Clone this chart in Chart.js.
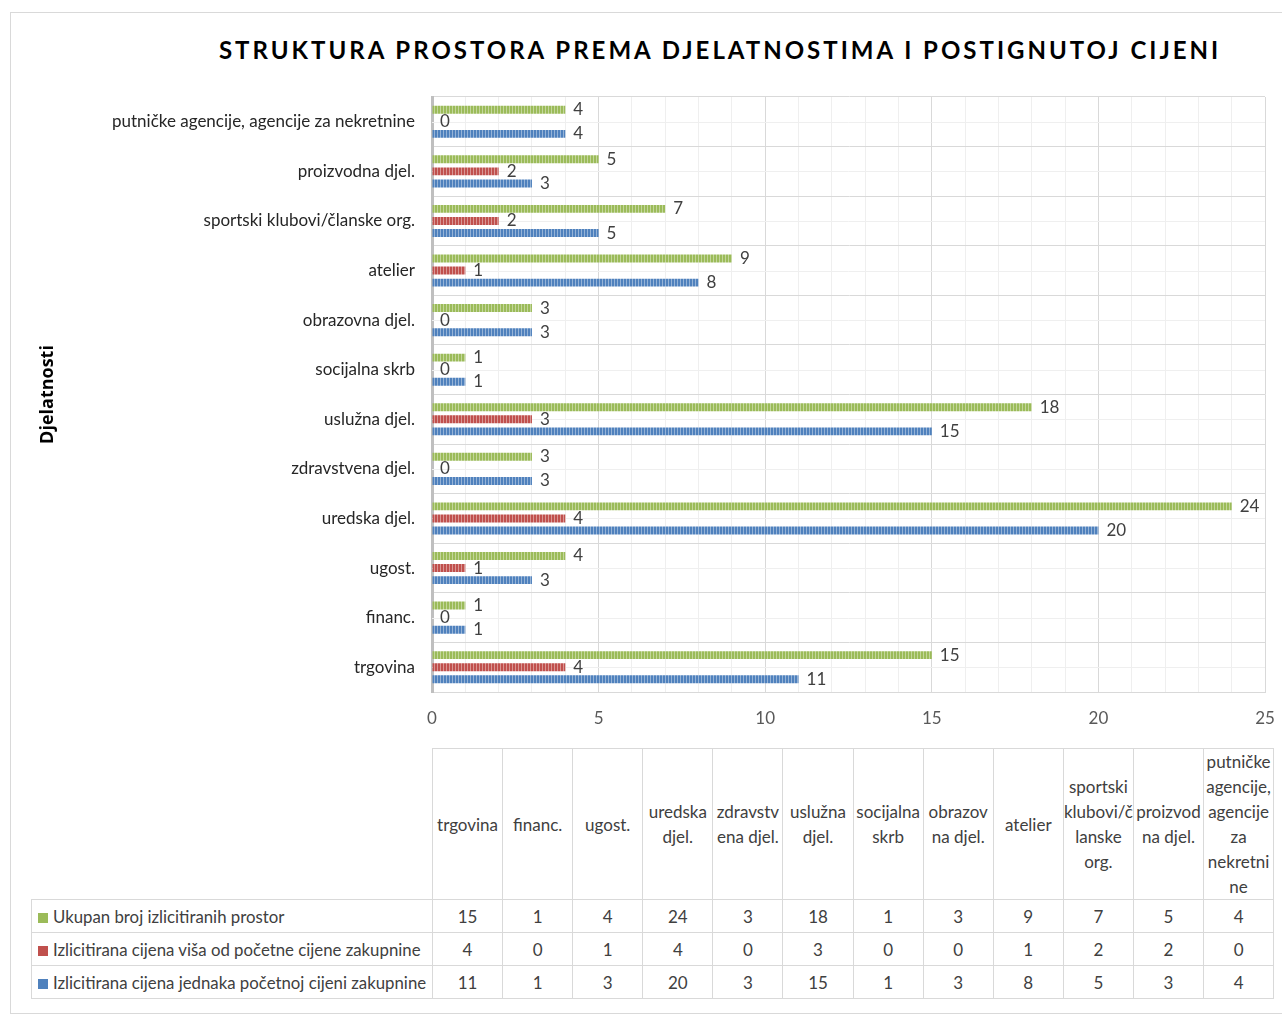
<!DOCTYPE html>
<html lang="hr">
<head>
<meta charset="UTF-8">
<title>Struktura prostora prema djelatnostima</title>
<script src="https://cdn.jsdelivr.net/npm/chart.js"></script>
<style>
    body { margin: 0; background: #fff; font-family: Lato, sans-serif; }
    #frame {
        position: absolute; left: 10px; top: 12px;
        width: 1300px; height: 1000px;
        border: 1px solid #d9d9d9;
    }
    #title {
        position: absolute; left: 720px; top: 36px;
        transform: translateX(-50%);
        white-space: nowrap;
        font: bold 24px Lato, sans-serif;
        letter-spacing: 3px;
        color: #000;
        line-height: 28px;
    }
    #chartBox { position: absolute; left: 0; top: 80px; width: 1282px; height: 652px; }
    #dataTable {
        position: absolute; left: 31px; top: 748px;
        border-collapse: collapse; table-layout: fixed;
        font-size: 17px; color: #404040;
    }
    #dataTable td { border: 1px solid #d9d9d9; text-align: center; padding: 0; }
    #dataTable td.blank { border-top: none; border-left: none; }
    #dataTable tr.head td { height: 149px; line-height: 25px; }
    #dataTable tr.row td { height: 32px; }
    #dataTable td.name { text-align: left; padding-left: 6px; white-space: nowrap; font-size: 16.8px; }
    .key { display: inline-block; width: 10px; height: 10px; margin-right: 5px; }
</style>
</head>
<body>
<div id="frame"></div>
<div id="title">STRUKTURA PROSTORA PREMA DJELATNOSTIMA I POSTIGNUTOJ CIJENI</div>
<div id="chartBox"><canvas id="chart"></canvas></div>
<table id="dataTable"></table>

<script>
    const categories = ['trgovina', 'financ.', 'ugost.', 'uredska djel.', 'zdravstvena djel.', 'uslužna djel.',
        'socijalna skrb', 'obrazovna djel.', 'atelier', 'sportski klubovi/članske org.', 'proizvodna djel.',
        'putničke agencije, agencije za nekretnine'];
    // zaglavlja tablice kako ih lomi Excel
    const tableHeaders = [['trgovina'], ['financ.'], ['ugost.'], ['uredska', 'djel.'], ['zdravstv', 'ena djel.'],
        ['uslužna', 'djel.'], ['socijalna', 'skrb'], ['obrazov', 'na djel.'], ['atelier'],
        ['sportski', 'klubovi/č', 'lanske', 'org.'], ['proizvod', 'na djel.'],
        ['putničke', 'agencije,', 'agencije', 'za', 'nekretni', 'ne']];

    const seriesNames = ['Ukupan broj izlicitiranih prostor',
        'Izlicitirana cijena viša od početne cijene zakupnine',
        'Izlicitirana cijena jednaka početnoj cijeni zakupnine'];
    const ukupno = [15, 1, 4, 24, 3, 18, 1, 3, 9, 7, 5, 4];
    const visa = [4, 0, 1, 4, 0, 3, 0, 0, 1, 2, 2, 0];
    const jednaka = [11, 1, 3, 20, 3, 15, 1, 3, 8, 5, 3, 4];
    const colors = ['#9bbb59', '#c0504d', '#4f81bd'];
    const lightColors = ['#c3d69b', '#d99694', '#95b3d7'];

    // prugasta ispuna stupaca
    function stripes(color, light) {
        const c = document.createElement('canvas');
        c.width = 3; c.height = 1;
        const g = c.getContext('2d');
        g.fillStyle = color; g.fillRect(0, 0, 3, 1);
        g.fillStyle = light; g.fillRect(2, 0, 1, 1);
        return g.createPattern(c, 'repeat');
    }

    const valueLabels = {
        id: 'valueLabels',
        afterDatasetsDraw(chart) {
            const ctx = chart.ctx;
            ctx.save();
            ctx.font = '17px Lato';
            ctx.fillStyle = '#404040';
            ctx.textAlign = 'left';
            ctx.textBaseline = 'middle';
            chart.data.datasets.forEach((ds, i) => {
                chart.getDatasetMeta(i).data.forEach((bar, j) => {
                    ctx.fillText(ds.data[j], bar.x + 8, bar.y);
                });
            });
            ctx.restore();
        }
    };

    // svijetle linije po sredini kategorija
    const midLines = {
        id: 'midLines',
        beforeDatasetsDraw(chart) {
            const { ctx, chartArea, scales } = chart;
            ctx.save();
            ctx.strokeStyle = '#efefef';
            ctx.lineWidth = 1;
            categories.forEach((c, i) => {
                const py = Math.round(scales.y.getPixelForValue(i)) + 0.5;
                ctx.beginPath();
                ctx.moveTo(chartArea.left, py);
                ctx.lineTo(chartArea.right, py);
                ctx.stroke();
            });
            ctx.restore();
        }
    };

    const data = [ukupno, visa, jednaka];

    new Chart(document.getElementById('chart'), {
        type: 'bar',
        data: {
            labels: categories,
            datasets: data.map((d, i) => ({
                label: seriesNames[i],
                data: d,
                backgroundColor: stripes(colors[i], lightColors[i]),
                borderWidth: 0,
                categoryPercentage: 0.73,
                barPercentage: 0.66
            }))
        },
        options: {
            indexAxis: 'y',
            responsive: true,
            maintainAspectRatio: false,
            animation: false,
            layout: { padding: { left: 38, right: 17, top: 17, bottom: 0 } },
            plugins: {
                legend: { display: false },
                tooltip: { enabled: false }
            },
            scales: {
                x: {
                    min: 0, max: 25,
                    afterFit: s => { s.height = 40; s.paddingLeft = 0; s.paddingRight = 0; },
                    ticks: {
                        stepSize: 1, autoSkip: false, maxRotation: 0,
                        padding: 16,
                        color: '#595959',
                        font: { family: 'Lato', size: 17 },
                        callback: v => (v % 5 === 0 ? v : '')
                    },
                    grid: {
                        drawTicks: false,
                        color: c => (c.tick && c.tick.value % 5 === 0 ? '#d9d9d9' : '#efefef')
                    },
                    border: { color: '#d9d9d9', width: 1 }
                },
                y: {
                    reverse: true,
                    afterFit: s => { s.width = 394; s.paddingTop = 0; s.paddingBottom = 0; },
                    ticks: {
                        padding: 17,
                        color: '#262626',
                        font: { family: 'Lato', size: 17 }
                    },
                    grid: { drawTicks: false, color: '#d9d9d9' },
                    border: { color: '#bfbfbf', width: 3 },
                    title: {
                        display: true,
                        text: 'Djelatnosti',
                        color: '#000',
                        padding: 0,
                        font: { family: 'Open Sans', size: 18, weight: 'bold', lineHeight: 1.05 }
                    }
                }
            }
        },
        plugins: [midLines, valueLabels]
    });

    // tablica podataka ispod grafikona
    const table = document.getElementById('dataTable');
    let html = '<colgroup><col style="width:401px">' + categories.map(() => '<col style="width:70.1px">').join('') + '</colgroup>';
    html += '<tr class="head"><td class="blank"></td>' + tableHeaders.map(h => '<td>' + h.join('<br>') + '</td>').join('') + '</tr>';
    data.forEach((d, i) => {
        html += '<tr class="row"><td class="name"><span class="key" style="background:' + colors[i] + '"></span>' +
            seriesNames[i] + '</td>' + d.map(v => '<td>' + v + '</td>').join('') + '</tr>';
    });
    table.innerHTML = html;
</script>
</body>
</html>
